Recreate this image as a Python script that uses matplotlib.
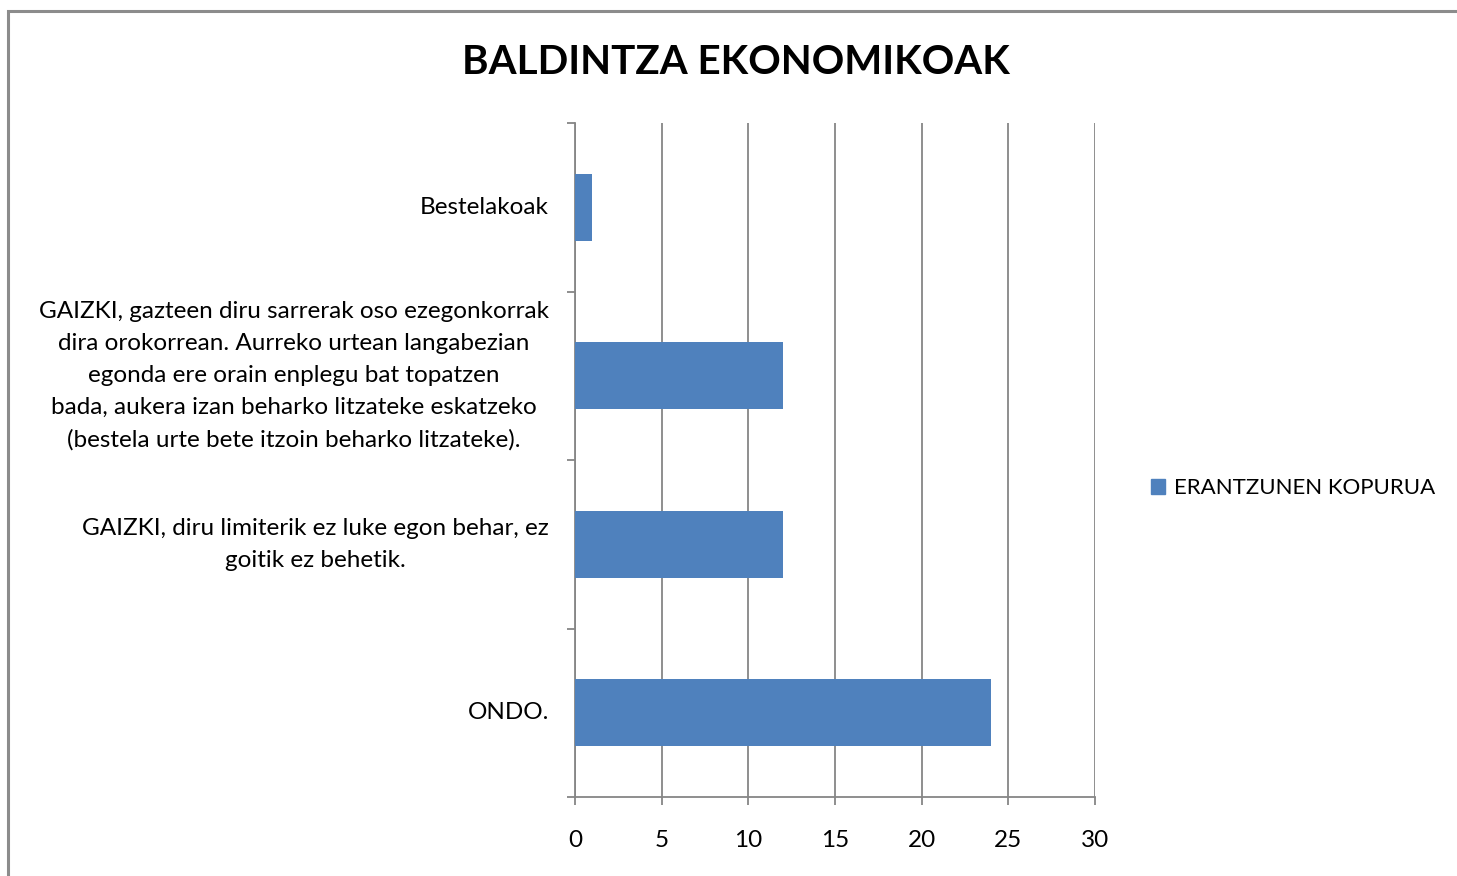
from matplotlib import pyplot as plt
from matplotlib.patches import Rectangle, Patch

#####

categories = ['ONDO.',
              'GAIZKI, diru limiterik ez luke egon behar, ez\ngoitik ez behetik.',
              'GAIZKI, gazteen diru sarrerak oso ezegonkorrak\ndira orokorrean. Aurreko urtean langabezian\negonda ere orain enplegu bat topatzen\nbada, aukera izan beharko litzateke eskatzeko\n(bestela urte bete itzoin beharko litzateke).',
              'Bestelakoak']
values = [24, 12, 12, 1]
xticks = [0, 5, 10, 15, 20, 25, 30]
series_name = 'ERANTZUNEN KOPURUA'
title = 'BALDINTZA EKONOMIKOAK'

#####

plt.rcParams['font.family'] = ['Lato', 'DejaVu Sans']
barcol = '#4F81BD'
gridcol = '#868686'
fs = 17.5

fig = plt.figure(figsize=(14.57, 8.76), dpi=100)
ax = fig.add_axes([575/1457, 1-797/876, 520/1457, 674/876])

ypos = list(range(len(categories)))
ax.barh(ypos, values, height=0.4, color=barcol, zorder=3, label=series_name)

ax.set_xlim(0, 30)
ax.set_ylim(-0.5, len(categories)-0.5)
ax.set_xticks(xticks)
ax.set_xticklabels([str(t) for t in xticks], fontsize=fs)
ax.xaxis.grid(True, color=gridcol, linewidth=1.3, zorder=0)
ax.tick_params(axis='x', length=6, width=1.3, color=gridcol, pad=18)

# category labels between tick marks at band boundaries
ax.set_yticks([y-0.5 for y in range(len(categories)+1)])
ax.set_yticklabels([])
ax.tick_params(axis='y', length=6, width=1.3, color=gridcol)
for y, lab in zip(ypos, categories):
    ax.text(-26/520*30, y, lab, ha='right', va='center', multialignment='center',
            fontsize=fs, linespacing=1.65, transform=ax.transData)

for s in ['top', 'right']:
    ax.spines[s].set_visible(False)
for s in ['left', 'bottom']:
    ax.spines[s].set_color(gridcol)
    ax.spines[s].set_linewidth(1.3)

fig.text(736/1457, 1-63/876, title, ha='center', va='center', fontsize=29, fontweight='bold')

fig.legend(handles=[Patch(color=barcol, label=series_name)], loc='center left',
           bbox_to_anchor=(1151/1457, 1-488/876), frameon=False, fontsize=16,
           borderpad=0, borderaxespad=0,
           handlelength=0.65, handleheight=0.65, handletextpad=0.4)

fig.patches.append(Rectangle((8/1457, -0.05), 1.1, 1-11/876+0.05, transform=fig.transFigure,
                             fill=False, edgecolor='#8c8c8c', linewidth=2.2))

fig.savefig('out.png', dpi=100)
